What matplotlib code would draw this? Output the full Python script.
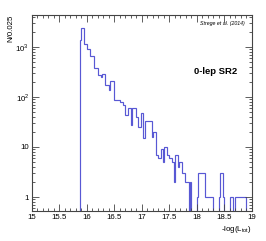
import numpy as np
import matplotlib
matplotlib.use("Agg")
import matplotlib.pyplot as plt
from matplotlib.ticker import FixedLocator, FuncFormatter, LogLocator, NullFormatter, MultipleLocator

# -log(L_tot) histogram, bins of 0.025 starting at 15.875
bin_start = 15.875
bin_width = 0.025
counts = [
    1380, 2400, 2400, 1150, 1150, 900, 900, 660, 660, 660,      # 15.875 - 16.1
    375, 375, 375, 275, 275, 248, 285, 285, 174, 174,           # 16.125 - 16.35
    174, 138, 212, 212, 212, 87, 87, 87, 87, 78,                # 16.375 - 16.6
    78, 69, 69, 44, 44, 59, 59, 28, 60, 60,                     # 16.625 - 16.85
    60, 40, 25, 25, 47, 47, 15, 33, 33, 33,                     # 16.875 - 17.1
    33, 33, 16, 20, 20, 7, 7, 6, 6, 9,                          # 17.125 - 17.35
    5, 10, 10, 7, 7, 6, 6, 5, 2, 7,                             # 17.375 - 17.6
    7, 4, 5, 5, 3, 3, 2, 2, 2, 0,                               # 17.625 - 17.85
    2, 0, 0, 0, 0, 1, 3, 3, 3, 3,                               # 17.875 - 18.1
    3, 1, 1, 1, 1, 1, 1, 0, 0, 0,                               # 18.125 - 18.35
    0, 1, 3, 3, 1, 0, 0, 0, 0, 1,                               # 18.375 - 18.6
    1, 0, 0, 1, 1, 1, 1, 1, 1, 1,                               # 18.625 - 18.85
    1,                                                          # 18.875
]

x_ticks = [15, 15.5, 16, 16.5, 17, 17.5, 18, 18.5, 19]
y_ticks = [1, 10, 100, 1000]
y_tick_labels = ['1', '10', r'10$^{2}$', r'10$^{3}$']

plt.rcParams['font.family'] = ['Liberation Sans', 'DejaVu Sans']
plt.rcParams['mathtext.fontset'] = 'custom'
plt.rcParams['mathtext.rm'] = 'Liberation Sans'

fig = plt.figure(figsize=(2.66, 2.41), dpi=100)
ax = fig.add_axes([0.1203, 0.1245, 0.8270, 0.8133])

edges = bin_start + bin_width * np.arange(len(counts) + 1)
vals = np.array(counts, dtype=float)
floor = 1e-2
vals = np.where(vals > 0, vals, floor)
ax.stairs(vals, edges, baseline=floor, color='#5858d4', linewidth=0.85)

ax.set_yscale('log')
ax.set_xlim(15, 19)
ax.set_ylim(0.525, 4365)

ax.xaxis.set_major_locator(FixedLocator(x_ticks))
ax.xaxis.set_minor_locator(MultipleLocator(0.1))
ax.xaxis.set_major_formatter(FuncFormatter(lambda v, p: '%g' % v))
ax.yaxis.set_major_locator(FixedLocator(y_ticks))
ax.set_yticklabels(y_tick_labels)
ax.yaxis.set_minor_locator(LogLocator(base=10, subs=np.arange(2, 10)))
ax.yaxis.set_minor_formatter(NullFormatter())

for s in ax.spines.values():
    s.set_color('#444444')
    s.set_linewidth(0.8)
ax.tick_params(which='both', direction='in', top=True, right=True, color='#444444',
               width=0.6, labelsize=5.7, pad=2)
ax.tick_params(which='major', length=5)
ax.tick_params(which='minor', length=2.5)

ax.set_xlabel(r'-log(L$_{\mathregular{tot}}$)', fontsize=5.7, ha='right', x=1.0, labelpad=2)
ax.set_ylabel('N/0.025', fontsize=5.7, ha='right', y=1.0, labelpad=1)

ax.text(0.965, 0.955, 'Strege et al. (2014)', transform=ax.transAxes, fontsize=3.8,
        style='italic', ha='right', va='center')
ax.text(0.935, 0.71, '0-lep SR2', transform=ax.transAxes, fontsize=6.8,
        fontweight='bold', ha='right', va='center')

fig.savefig('out.png', dpi=100)
